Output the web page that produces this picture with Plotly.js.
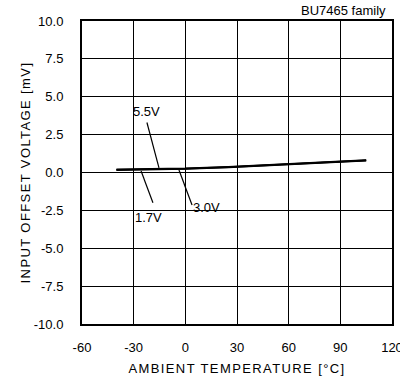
<!DOCTYPE html>
<html>
<head>
<meta charset="utf-8">
<script src="https://cdn.plot.ly/plotly-3.0.1.min.js"></script>
<style>
html,body{margin:0;padding:0;background:#fff;}
#chart{width:400px;height:383px;}
.g-xtitle text, .g-ytitle text{letter-spacing:1.4px;}
</style>
</head>
<body>
<div id="chart"></div>
<script>
// Data
const temps = [-40, -20, 0, 25, 50, 75, 105];
const v17 = [0.16, 0.19, 0.23, 0.34, 0.48, 0.61, 0.78];
const v30 = [0.18, 0.21, 0.25, 0.36, 0.50, 0.63, 0.80];
const v55 = [0.20, 0.23, 0.27, 0.38, 0.52, 0.65, 0.82];
const seriesNames = ['1.7V', '3.0V', '5.5V'];
const xTickVals = [-60, -30, 0, 30, 60, 90, 120];
const xTickText = ['-60', '-30', '0', '30', '60', '90', '120'];
const yTickVals = [10, 7.5, 5, 2.5, 0, -2.5, -5, -7.5, -10];
const yTickText = ['10.0', '7.5', '5.0', '2.5', '0.0', '-2.5', '-5.0', '-7.5', '-10.0'];

const font = {family: 'Liberation Sans, Arial, sans-serif', size: 13, color: '#000'};
const traces = [v17, v30, v55].map((v, i) => ({
  x: temps, y: v, type: 'scatter', mode: 'lines', name: seriesNames[i],
  line: {color: '#000', width: 1.7}, hoverinfo: 'skip'
}));

function leader(x0, y0, x1, y1) {
  return {type: 'line', xref: 'x', yref: 'y', x0: x0, y0: y0, x1: x1, y1: y1,
          line: {color: '#000', width: 1.2}};
}
const layout = {
  width: 400, height: 383,
  margin: {l: 82, r: 8, t: 21, b: 59},
  paper_bgcolor: '#fff', plot_bgcolor: '#fff',
  font: font,
  showlegend: false,
  xaxis: {
    range: [-60, 120], tickvals: xTickVals, ticktext: xTickText,
    showgrid: true, gridcolor: '#000', gridwidth: 1,
    showline: true, linecolor: '#000', linewidth: 2, mirror: true,
    zeroline: false, ticks: '', ticklabelstandoff: 10, ticklabeloverflow: 'allow',
    tickfont: font,
    title: {text: 'AMBIENT TEMPERATURE [°C]', font: font, standoff: 10}
  },
  yaxis: {
    range: [-10, 10], tickvals: yTickVals, ticktext: yTickText,
    showgrid: true, gridcolor: '#000', gridwidth: 1,
    showline: true, linecolor: '#000', linewidth: 2, mirror: true,
    zeroline: false, ticks: '', ticklabelstandoff: 14, ticklabeloverflow: 'allow',
    tickfont: font,
    title: {text: 'INPUT OFFSET VOLTAGE [mV]', font: font, standoff: 0}
  },
  shapes: [
    leader(-22.3, 3.3, -15.3, 0.3),
    leader(-25.7, 0.1, -18.8, -2.0),
    leader(-3.7, 0.17, 3.9, -2.15)
  ],
  annotations: [
    {text: '5.5V', x: -22.3, y: 4.0, xref: 'x', yref: 'y', showarrow: false, font: font},
    {text: '1.7V', x: -21.1, y: -3.0, xref: 'x', yref: 'y', showarrow: false, font: font},
    {text: '3.0V', x: 12, y: -2.28, xref: 'x', yref: 'y', showarrow: false, font: font},
    {text: 'BU7465 family', x: 1, y: 1, xref: 'paper', yref: 'paper', xanchor: 'right', yanchor: 'bottom',
     xshift: -4, yshift: 1, showarrow: false, font: font}
  ]
};
Plotly.newPlot('chart', traces, layout, {staticPlot: true, displayModeBar: false});
</script>
</body>
</html>
